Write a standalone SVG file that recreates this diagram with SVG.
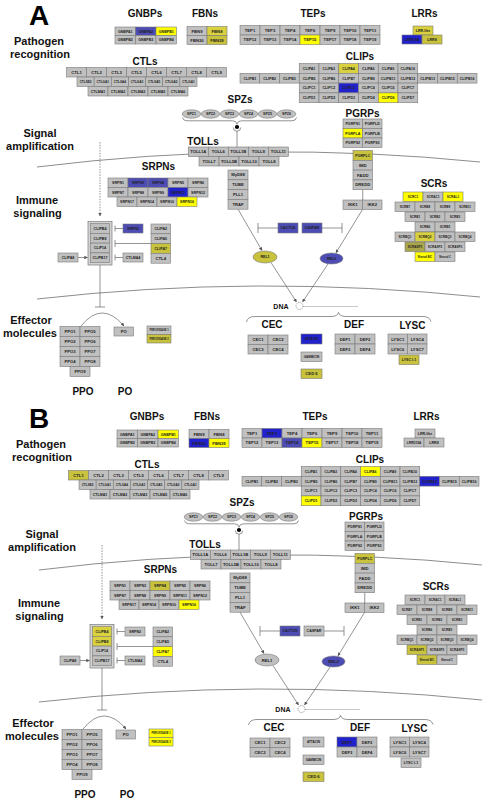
<svg xmlns="http://www.w3.org/2000/svg" width="483" height="800" viewBox="0 0 483 800">
<style>
text{font-family:"Liberation Sans",Arial,Helvetica,sans-serif;font-weight:bold}
.c{fill:#c0c0c0;stroke:#7a7a7a;stroke-width:.6}
.y{fill:#ffff00}
.o{fill:#c8c23c}
.l{fill:#d9d23e}
.d{fill:#aaa64c}
.b{fill:#2222cc}
.s{fill:#4c4cb4}
.bx{fill:#d4d4d4;stroke:#7a7a7a;stroke-width:.7}
.t{font-size:4.2px;text-anchor:middle;fill:#222}
.t2{font-size:3.6px}
.t3{font-size:3.1px}
.t4{font-size:2.6px}
.h{font-size:10px;text-anchor:middle;fill:#111}
.lab{font-size:11px;text-anchor:middle;fill:#111}
.big{font-size:28px;text-anchor:middle;fill:#000}
.ln{fill:none;stroke:#666;stroke-width:.7}
.mb{fill:none;stroke:#6e6e6e;stroke-width:.8}
.ar{marker-end:url(#ah)}
.dash{stroke-dasharray:1.5 1.2}
.dot{stroke-dasharray:1 1}
</style>
<defs>
<marker id="ah" viewBox="0 0 6 6" refX="5.5" refY="3" markerUnits="userSpaceOnUse" markerWidth="3.5" markerHeight="3.5" orient="auto"><path d="M0,0L6,3L0,6z" fill="#555"/></marker>
</defs>
<rect width="483" height="800" fill="#fff"/>

<!-- ================= PANEL A ================= -->
<g id="panelA">
<text class="big" x="39" y="25">A</text>
<text class="lab" x="39" y="45">Pathogen</text>
<text class="lab" x="40" y="58">recognition</text>
<text class="lab" x="40" y="136.5">Signal</text>
<text class="lab" x="40" y="150">amplification</text>
<text class="lab" x="37" y="203.5">Immune</text>
<text class="lab" x="37.5" y="216.5">signaling</text>
<text class="lab" x="31" y="323.5">Effector</text>
<text class="lab" x="30" y="336.5">molecules</text>

<g id="A-connectors">
<path class="mb" d="M37,167 Q257.5,139.5 480,162"/>
<path class="mb" d="M37,299 Q257,274 480,297"/>
<path class="ln dash ar" d="M100,142 V216"/>
<path class="ln" d="M182.5,117.5 Q183,120.8 187,120.8 H232.5 Q236.5,120.8 237,124.3 Q237.5,120.8 241.5,120.8 H292 Q296,120.8 296.5,117.5"/>
<circle cx="237" cy="127" r="2.1" fill="#000"/>
<path class="ln" d="M233.3,127.5 A3.7,3.7 0 0 0 240.7,127.5"/>
<path class="ln" d="M237,131.2 V147"/>
<path class="ln ar" d="M238,209.2 L262,250.5"/>
<path class="ln ar" d="M362.5,209.5 L336,252.8"/>
<path class="ln ar" d="M271,262.5 L296.5,302"/>
<path class="ln ar" d="M328,264 L302.5,302"/>
<path class="ln" d="M278,228 H258 M258,223 V233"/>
<path class="ln" d="M322,228 H342 M342,223 V233"/>
<path class="ln" d="M362.75,189.7 V200"/>
<path class="ln" d="M123,228.5 H115 M115,225.5 V231.5"/>
<path class="ln" d="M151,243.5 H115 M115,240 V247"/>
<path class="ln" d="M123,257.5 H115 M115,254.5 V260.5"/>
<path class="ln ar" d="M78,257.5 H87.5"/>
<path class="ln" d="M100,265 V307 M95,307 H105"/>
<path class="ln ar" d="M81,326 Q102,300 124,326"/>
<circle cx="299.5" cy="306" r="3.5" fill="none" stroke="#555" stroke-width=".6" stroke-dasharray="1 .8"/>
<path class="ln dot" d="M303.5,306.5 H358"/>
<path class="ln" d="M246.5,322 Q247.5,316.5 255,316.5 H331 Q337.5,316.5 338.5,312.5 Q339.5,316.5 346,316.5 H423 Q429.5,316.5 431,321.5"/>
</g>

<g id="A-GNBPs">
<text class="h" x="145" y="16.5">GNBPs</text>
<g transform="translate(115,27)">
<rect class="c" width="20.5" height="8.5"/><rect class="c s" x="20.5" width="20.5" height="8.5"/><rect class="c y" x="41" width="20.5" height="8.5"/>
<rect class="c" y="8.5" width="20.5" height="8.5"/><rect class="c" x="20.5" y="8.5" width="20.5" height="8.5"/><rect class="c" x="41" y="8.5" width="20.5" height="8.5"/>
<text class="t t2" x="10.25" y="5.55">GNBPA1</text><text class="t t2" x="30.75" y="5.55">GNBPA2</text><text class="t t2" x="51.25" y="5.55">GNBPB1</text>
<text class="t t2" x="10.25" y="14.05">GNBPB2</text><text class="t t2" x="30.75" y="14.05">GNBPB3</text><text class="t t2" x="51.25" y="14.05">GNBPB4</text>
</g></g>

<g id="A-FBNs">
<text class="h" x="205" y="16.5">FBNs</text>
<g transform="translate(187,26.5)">
<rect class="c" width="20" height="9"/><rect class="c l" x="20" width="20" height="9"/>
<rect class="c" y="9" width="20" height="9"/><rect class="c o" x="20" y="9" width="20" height="9"/>
<text class="t" x="10" y="6">FBN9</text><text class="t" x="30" y="6">FBN8</text>
<text class="t" x="10" y="15">FBN30</text><text class="t" x="30" y="15">FBN39</text>
</g></g>

<g id="A-TEPs">
<text class="h" x="313" y="16.5">TEPs</text>
<g transform="translate(240,25.5)">
<rect class="c" x="0" width="20" height="9.5"/><rect class="c" x="20" width="20" height="9.5"/><rect class="c" x="40" width="20" height="9.5"/><rect class="c" x="60" width="20" height="9.5"/><rect class="c" x="80" width="20" height="9.5"/><rect class="c" x="100" width="20" height="9.5"/><rect class="c" x="120" width="20" height="9.5"/>
<rect class="c" x="0" y="9.5" width="20" height="9.5"/><rect class="c" x="20" y="9.5" width="20" height="9.5"/><rect class="c" x="40" y="9.5" width="20" height="9.5"/><rect class="c y" x="60" y="9.5" width="20" height="9.5"/><rect class="c" x="80" y="9.5" width="20" height="9.5"/><rect class="c" x="100" y="9.5" width="20" height="9.5"/><rect class="c" x="120" y="9.5" width="20" height="9.5"/>
<text class="t" x="10" y="6.25">TEP1</text><text class="t" x="30" y="6.25">TEP3</text><text class="t" x="50" y="6.25">TEP4</text><text class="t" x="70" y="6.25">TEP6</text><text class="t" x="90" y="6.25">TEP9</text><text class="t" x="110" y="6.25">TEP10</text><text class="t" x="130" y="6.25">TEP11</text>
<text class="t" x="10" y="15.75">TEP12</text><text class="t" x="30" y="15.75">TEP13</text><text class="t" x="50" y="15.75">TEP14</text><text class="t" x="70" y="15.75">TEP15</text><text class="t" x="90" y="15.75">TEP17</text><text class="t" x="110" y="15.75">TEP18</text><text class="t" x="130" y="15.75">TEP19</text>
</g></g>

<g id="A-LRRs">
<text class="h" x="424.5" y="16.5">LRRs</text>
<rect class="c l" x="413" y="26" width="20" height="9"/>
<rect class="c b" x="402" y="35" width="20" height="9"/>
<rect class="c o" x="422" y="35" width="20" height="9"/>
<text class="t t2" x="423" y="31.8">LRR-like</text>
<text class="t t3" x="412" y="40.6">LRRD19A</text>
<text class="t t2" x="432" y="40.8">LRR8</text>
</g>

<g id="A-CTLs">
<text class="h" x="145" y="64.5">CTLs</text>
<g transform="translate(66.5,67.5)">
<rect class="c" x="0" width="20" height="9.5"/><rect class="c" x="20" width="20" height="9.5"/><rect class="c" x="40" width="20" height="9.5"/><rect class="c" x="60" width="20" height="9.5"/><rect class="c" x="80" width="20" height="9.5"/><rect class="c" x="100" width="20" height="9.5"/><rect class="c" x="120" width="20" height="9.5"/><rect class="c" x="140" width="20" height="9.5"/>
<text class="t" x="10" y="6.25">CTL1</text><text class="t" x="30" y="6.25">CTL2</text><text class="t" x="50" y="6.25">CTL3</text><text class="t" x="70" y="6.25">CTL5</text><text class="t" x="90" y="6.25">CTL6</text><text class="t" x="110" y="6.25">CTL7</text><text class="t" x="130" y="6.25">CTL8</text><text class="t" x="150" y="6.25">CTL9</text>
</g>
<g transform="translate(77,77)">
<rect class="c" x="0" width="17.14" height="9.5"/><rect class="c" x="17.14" width="17.14" height="9.5"/><rect class="c" x="34.29" width="17.14" height="9.5"/><rect class="c" x="51.43" width="17.14" height="9.5"/><rect class="c" x="68.57" width="17.14" height="9.5"/><rect class="c" x="85.71" width="17.14" height="9.5"/><rect class="c" x="102.86" width="17.14" height="9.5"/>
<text class="t t3" x="8.57" y="5.9">CTLSE2</text><text class="t t3" x="25.71" y="5.9">CTLGA1</text><text class="t t3" x="42.86" y="5.9">CTLGA4</text><text class="t t3" x="60" y="5.9">CTLGA3</text><text class="t t3" x="77.14" y="5.9">CTLGA5</text><text class="t t3" x="94.29" y="5.9">CTLGA2</text><text class="t t3" x="111.43" y="5.9">CTLGA1</text>
</g>
<g transform="translate(88,86.5)">
<rect class="c" x="0" width="20" height="9.5"/><rect class="c" x="20" width="20" height="9.5"/><rect class="c" x="40" width="20" height="9.5"/><rect class="c" x="60" width="20" height="9.5"/><rect class="c" x="80" width="20" height="9.5"/>
<text class="t t2" x="10" y="6.05">CTLMA1</text><text class="t t2" x="30" y="6.05">CTLMA2</text><text class="t t2" x="50" y="6.05">CTLMA3</text><text class="t t2" x="70" y="6.05">CTLMA5</text><text class="t t2" x="90" y="6.05">CTLMA6</text>
</g></g>

<g id="A-CLIPs">
<text class="h" x="360" y="60">CLIPs</text>
<g transform="translate(240,63.5)">
<rect class="c" x="59.25" y="0" width="19.75" height="9.8"/><rect class="c" x="79" y="0" width="19.75" height="9.8"/><rect class="c l" x="98.75" y="0" width="19.75" height="9.8"/><rect class="c" x="118.5" y="0" width="19.75" height="9.8"/><rect class="c" x="138.25" y="0" width="19.75" height="9.8"/><rect class="c" x="158" y="0" width="19.75" height="9.8"/>
<rect class="c" x="0" y="9.8" width="19.75" height="9.8"/><rect class="c" x="19.75" y="9.8" width="19.75" height="9.8"/><rect class="c" x="39.5" y="9.8" width="19.75" height="9.8"/><rect class="c" x="59.25" y="9.8" width="19.75" height="9.8"/><rect class="c" x="79" y="9.8" width="19.75" height="9.8"/><rect class="c" x="98.75" y="9.8" width="19.75" height="9.8"/><rect class="c" x="118.5" y="9.8" width="19.75" height="9.8"/><rect class="c" x="138.25" y="9.8" width="19.75" height="9.8"/><rect class="c" x="158" y="9.8" width="19.75" height="9.8"/><rect class="c" x="177.75" y="9.8" width="19.75" height="9.8"/><rect class="c" x="197.5" y="9.8" width="19.75" height="9.8"/><rect class="c" x="217.25" y="9.8" width="19.75" height="9.8"/>
<rect class="c" x="59.25" y="19.6" width="19.75" height="9.8"/><rect class="c" x="79" y="19.6" width="19.75" height="9.8"/><rect class="c b" x="98.75" y="19.6" width="19.75" height="9.8"/><rect class="c" x="118.5" y="19.6" width="19.75" height="9.8"/><rect class="c" x="138.25" y="19.6" width="19.75" height="9.8"/><rect class="c" x="158" y="19.6" width="19.75" height="9.8"/>
<rect class="c" x="59.25" y="29.4" width="19.75" height="9.8"/><rect class="c" x="79" y="29.4" width="19.75" height="9.8"/><rect class="c" x="98.75" y="29.4" width="19.75" height="9.8"/><rect class="c" x="118.5" y="29.4" width="19.75" height="9.8"/><rect class="c y" x="138.25" y="29.4" width="19.75" height="9.8"/><rect class="c" x="158" y="29.4" width="19.75" height="9.8"/>
<text class="t t2" x="69.125" y="6.2">CLIPA1</text><text class="t t2" x="88.875" y="6.2">CLIPA3</text><text class="t t2" x="108.625" y="6.2">CLIPA4</text><text class="t t2" x="128.375" y="6.2">CLIPA6</text><text class="t t2" x="148.125" y="6.2">CLIPA9</text><text class="t t2" x="167.875" y="6.2">CLIPA10</text>
<text class="t t2" x="9.875" y="16">CLIPB1</text><text class="t t2" x="29.625" y="16">CLIPB2</text><text class="t t2" x="49.375" y="16">CLIPB3</text><text class="t t2" x="69.125" y="16">CLIPB5</text><text class="t t2" x="88.875" y="16">CLIPB6</text><text class="t t2" x="108.625" y="16">CLIPB7</text><text class="t t2" x="128.375" y="16">CLIPB9</text><text class="t t2" x="148.125" y="16">CLIPB11</text><text class="t t2" x="167.875" y="16">CLIPB12</text><text class="t t2" x="187.625" y="16">CLIPB13</text><text class="t t2" x="207.375" y="16">CLIPB15</text><text class="t t2" x="227.125" y="16">CLIPB16</text>
<text class="t t2" x="69.125" y="25.8">CLIPC1</text><text class="t t2" x="88.875" y="25.8">CLIPC2</text><text class="t t2" x="108.625" y="25.8">CLIPC3</text><text class="t t2" x="128.375" y="25.8">CLIPC4</text><text class="t t2" x="148.125" y="25.8">CLIPC6</text><text class="t t2" x="167.875" y="25.8">CLIPC7</text>
<text class="t t2" x="69.125" y="35.6">CLIPD1</text><text class="t t2" x="88.875" y="35.6">CLIPD2</text><text class="t t2" x="108.625" y="35.6">CLIPD3</text><text class="t t2" x="128.375" y="35.6">CLIPD4</text><text class="t t2" x="148.125" y="35.6">CLIPD6</text><text class="t t2" x="167.875" y="35.6">CLIPD7</text>
</g></g>

<g id="A-SPZs">
<text class="h" x="240" y="103">SPZs</text>
<ellipse class="c" cx="191.5" cy="114" rx="9.3" ry="4.2"/><ellipse class="c" cx="210.5" cy="114" rx="9.3" ry="4.2"/><ellipse class="c" cx="229.5" cy="114" rx="9.3" ry="4.2"/><ellipse class="c" cx="248.5" cy="114" rx="9.3" ry="4.2"/><ellipse class="c" cx="267.5" cy="114" rx="9.3" ry="4.2"/><ellipse class="c" cx="286.5" cy="114" rx="9.3" ry="4.2"/>
<text class="t t2" x="191.5" y="115.3">SPZ1</text><text class="t t2" x="210.5" y="115.3">SPZ2</text><text class="t t2" x="229.5" y="115.3">SPZ3</text><text class="t t2" x="248.5" y="115.3">SPZ4</text><text class="t t2" x="267.5" y="115.3">SPZ5</text><text class="t t2" x="286.5" y="115.3">SPZ6</text>
</g>

<g id="A-TOLLs">
<text class="h" x="203" y="145">TOLLs</text>
<g transform="translate(188.3,147)">
<rect class="c" x="0" width="20" height="9.5"/><rect class="c" x="20" width="20" height="9.5"/><rect class="c" x="40" width="20" height="9.5"/><rect class="c" x="60" width="20" height="9.5"/><rect class="c" x="80" width="20" height="9.5"/>
<text class="t" x="10" y="6.25">TOLL1A</text><text class="t" x="30" y="6.25">TOLL6</text><text class="t" x="50" y="6.25">TOLL1B</text><text class="t" x="70" y="6.25">TOLL9</text><text class="t" x="90" y="6.25">TOLL11</text>
</g>
<g transform="translate(199,156.5)">
<rect class="c" x="0" width="20" height="9.5"/><rect class="c" x="20" width="20" height="9.5"/><rect class="c" x="40" width="20" height="9.5"/><rect class="c" x="60" width="20" height="9.5"/>
<text class="t" x="10" y="6.25">TOLL7</text><text class="t" x="30" y="6.25">TOLL5B</text><text class="t" x="50" y="6.25">TOLL10</text><text class="t" x="70" y="6.25">TOLL8</text>
</g></g>

<g id="A-TollPathway" transform="translate(228,170)">
<rect class="c" y="0" width="20" height="9.8"/><rect class="c" y="9.8" width="20" height="9.8"/><rect class="c" y="19.6" width="20" height="9.8"/><rect class="c" y="29.4" width="20" height="9.8"/>
<text class="t" x="10" y="6.4">MyD88</text><text class="t" x="10" y="16.2">TUBE</text><text class="t" x="10" y="26">PLL1</text><text class="t" x="10" y="35.8">TRAF</text>
</g>

<g id="A-PGRPs">
<text class="h" x="362.5" y="116.5">PGRPs</text>
<g transform="translate(343,119)">
<rect class="c" width="19.5" height="9.5"/><rect class="c" x="19.5" width="19.5" height="9.5"/>
<rect class="c y" y="9.5" width="19.5" height="9.5"/><rect class="c" x="19.5" y="9.5" width="19.5" height="9.5"/>
<rect class="c" y="19" width="19.5" height="9.5"/><rect class="c" x="19.5" y="19" width="19.5" height="9.5"/>
<text class="t t2" x="9.75" y="6.05">PGRPS1</text><text class="t t2" x="29.25" y="6.05">PGRPLD</text>
<text class="t t2" x="9.75" y="15.55">PGRPLA</text><text class="t t2" x="29.25" y="15.55">PGRPLB</text>
<text class="t t2" x="9.75" y="25.05">PGRPS2</text><text class="t t2" x="29.25" y="25.05">PGRPS3</text>
</g></g>

<g id="A-ImdPathway" transform="translate(353,150.5)">
<rect class="c o" y="0" width="19.5" height="9.8"/><rect class="c" y="9.8" width="19.5" height="9.8"/><rect class="c" y="19.6" width="19.5" height="9.8"/><rect class="c" y="29.4" width="19.5" height="9.8"/>
<text class="t t2" x="9.75" y="6.2">PGRPLC</text><text class="t" x="9.75" y="16.2">IMD</text><text class="t" x="9.75" y="26">FADD</text><text class="t" x="9.75" y="35.8">DREDD</text>
</g>

<g id="A-IKK" transform="translate(343,200)">
<rect class="c" width="19.5" height="9.5"/><rect class="c" x="19.5" width="19.5" height="9.5"/>
<text class="t" x="9.75" y="6.25">IKK1</text><text class="t" x="29.25" y="6.25">IKK2</text>
</g>

<g id="A-SRPNs">
<text class="h" x="158.5" y="170">SRPNs</text>
<g transform="translate(108,178)">
<rect class="c" x="0" width="20" height="9.5"/><rect class="c s" x="20" width="20" height="9.5"/><rect class="c s" x="40" width="20" height="9.5"/><rect class="c" x="60" width="20" height="9.5"/><rect class="c" x="80" width="20" height="9.5"/>
<rect class="c" x="0" y="9.5" width="20" height="9.5"/><rect class="c" x="20" y="9.5" width="20" height="9.5"/><rect class="c" x="40" y="9.5" width="20" height="9.5"/><rect class="c b" x="60" y="9.5" width="20" height="9.5"/><rect class="c" x="80" y="9.5" width="20" height="9.5"/>
<rect class="c" x="9" y="19" width="20" height="9.5"/><rect class="c" x="29" y="19" width="20" height="9.5"/><rect class="c" x="49" y="19" width="20" height="9.5"/><rect class="c y" x="69" y="19" width="20" height="9.5"/>
<text class="t t2" x="10" y="6.05">SRPN1</text><text class="t t2" x="30" y="6.05">SRPN3</text><text class="t t2" x="50" y="6.05">SRPN4</text><text class="t t2" x="70" y="6.05">SRPN5</text><text class="t t2" x="90" y="6.05">SRPN6</text>
<text class="t t2" x="10" y="15.55">SRPN7</text><text class="t t2" x="30" y="15.55">SRPN8</text><text class="t t2" x="50" y="15.55">SRPN9</text><text class="t t2" x="70" y="15.55">SRPN11</text><text class="t t2" x="90" y="15.55">SRPN12</text>
<text class="t t2" x="19" y="25.05">SRPN17</text><text class="t t2" x="39" y="25.05">SRPN14</text><text class="t t2" x="59" y="25.05">SRPN10</text><text class="t t2" x="79" y="25.05">SRPN16</text>
</g></g>

<g id="A-SCRs">
<text class="h" x="434" y="186.5">SCRs</text>
<rect class="c y" x="403" y="192" width="20" height="9.5"/><rect class="c" x="423" y="192" width="20" height="9.5"/><rect class="c y" x="443" y="192" width="20" height="9.5"/>
<rect class="c" x="395" y="202" width="20" height="9.5"/><rect class="c" x="415" y="202" width="20" height="9.5"/><rect class="c" x="435" y="202" width="20" height="9.5"/><rect class="c" x="455" y="202" width="20" height="9.5"/>
<rect class="c" x="405" y="212" width="20" height="9.5"/><rect class="c" x="425" y="212" width="20" height="9.5"/><rect class="c" x="445" y="212" width="20" height="9.5"/>
<rect class="c" x="415" y="222" width="20" height="9.5"/><rect class="c" x="435" y="222" width="20" height="9.5"/>
<rect class="c" x="395" y="232" width="20" height="9.5"/><rect class="c l" x="415" y="232" width="20" height="9.5"/><rect class="c" x="435" y="232" width="20" height="9.5"/><rect class="c" x="455" y="232" width="20" height="9.5"/>
<rect class="c d" x="405" y="242" width="20" height="9.5"/><rect class="c" x="425" y="242" width="20" height="9.5"/><rect class="c" x="445" y="242" width="20" height="9.5"/>
<rect class="c y" x="415" y="252" width="20" height="9.5"/><rect class="c" x="435" y="252" width="20" height="9.5"/>
<text class="t t3" x="413" y="197.9">SCRC1</text><text class="t t3" x="433" y="197.9">SCRAC1</text><text class="t t3" x="453" y="197.9">SCRAL1</text>
<text class="t t3" x="405" y="207.9">SCRB7</text><text class="t t3" x="425" y="207.9">SCRB8</text><text class="t t3" x="445" y="207.9">SCRB9</text><text class="t t3" x="465" y="207.9">SCRB11</text>
<text class="t t3" x="415" y="217.9">SCRB1</text><text class="t t3" x="435" y="217.9">SCRB2</text><text class="t t3" x="455" y="217.9">SCRB3</text>
<text class="t t3" x="425" y="227.9">SCRB6</text><text class="t t3" x="445" y="227.9">SCRB5</text>
<text class="t t3" x="405" y="237.9">SCRBQ1</text><text class="t t3" x="425" y="237.9">SCRBQ2</text><text class="t t3" x="445" y="237.9">SCRBQ3</text><text class="t t3" x="465" y="237.9">SCRBQ4</text>
<text class="t t3" x="415" y="247.9">SCRASP1</text><text class="t t3" x="435" y="247.9">SCRASP2</text><text class="t t3" x="455" y="247.9">SCRASP3</text>
<text class="t t4" x="425" y="257.7">Nimrod B/C</text><text class="t t4" x="445" y="257.7">Nimrod C</text>
</g>

<g id="A-CLIPB-complex">
<rect class="bx" x="88" y="221.5" width="24" height="43.5"/>
<g transform="translate(90.5,223.5)">
<rect class="c" y="0" width="19" height="9.8"/><rect class="c" y="9.8" width="19" height="9.8"/><rect class="c" y="19.6" width="19" height="9.8"/><rect class="c" y="29.4" width="19" height="9.8"/>
<text class="t t2" x="9.5" y="6.2">CLIPB4</text><text class="t t2" x="9.5" y="16">CLIPB8</text><text class="t t2" x="9.5" y="25.8">CLIP14</text><text class="t t2" x="9.5" y="35.6">CLIPB17</text>
</g></g>
<g id="A-SRPN2"><rect class="c s" x="123" y="224" width="20" height="9"/><text class="t t2" x="133" y="229.8">SRPN2</text></g>
<g id="A-CTLMA4"><rect class="c" x="123" y="253" width="20" height="9"/><text class="t t2" x="133" y="258.8">CTLMA4</text></g>
<g id="A-CLIPA8"><rect class="c" x="58" y="253" width="20" height="9"/><text class="t t2" x="68" y="258.8">CLIPA8</text></g>
<g id="A-CLIPA-stack" transform="translate(151,224)">
<rect class="c" y="0" width="19.5" height="9.8"/><rect class="c" y="9.8" width="19.5" height="9.8"/><rect class="c o" y="19.6" width="19.5" height="9.8"/><rect class="c" y="29.4" width="19.5" height="9.8"/>
<text class="t t2" x="9.75" y="6.2">CLIPA2</text><text class="t t2" x="9.75" y="16">CLIPA5</text><text class="t t2" x="9.75" y="25.8">CLIPA7</text><text class="t" x="9.75" y="35.8">CTL4</text>
</g>

<g id="A-CACTUS"><rect class="c s" x="278" y="223" width="20" height="10"/><text class="t t2" x="288" y="229.3">CACTUS</text></g>
<g id="A-CASPAR"><rect class="c s" x="302" y="223" width="20" height="10"/><text class="t t2" x="312" y="229.3">CASPAR</text></g>
<g id="A-REL1"><ellipse class="c o" cx="265" cy="257" rx="12" ry="6"/><text class="t t2" x="265" y="258.3">REL1</text></g>
<g id="A-REL2"><ellipse class="c s" cx="331.5" cy="258.5" rx="11.5" ry="5.5"/><text class="t t2" x="331.5" y="259.8">REL2</text></g>
<text x="288.5" y="309" font-size="7" text-anchor="end" fill="#111">DNA</text>

<g id="A-PPO">
<g transform="translate(60,326.5)">
<rect class="c" x="0" y="0" width="20" height="10"/><rect class="c" x="20" y="0" width="20" height="10"/>
<rect class="c" x="0" y="10" width="20" height="10"/><rect class="c" x="20" y="10" width="20" height="10"/>
<rect class="c" x="0" y="20" width="20" height="10"/><rect class="c" x="20" y="20" width="20" height="10"/>
<rect class="c" x="0" y="30" width="20" height="10"/><rect class="c" x="20" y="30" width="20" height="10"/>
<rect class="c" x="10" y="40" width="20" height="10"/>
<text class="t" x="10" y="6.5">PPO1</text><text class="t" x="30" y="6.5">PPO5</text>
<text class="t" x="10" y="16.5">PPO2</text><text class="t" x="30" y="16.5">PPO6</text>
<text class="t" x="10" y="26.5">PPO3</text><text class="t" x="30" y="26.5">PPO7</text>
<text class="t" x="10" y="36.5">PPO4</text><text class="t" x="30" y="36.5">PPO8</text>
<text class="t" x="20" y="46.5">PPO9</text>
</g>
<text class="h" x="83" y="395">PPO</text>
</g>
<g id="A-PO"><rect class="c" x="114" y="327" width="19.5" height="9"/><text class="t" x="123.75" y="333">PO</text><text class="h" x="125" y="395">PO</text></g>
<g id="A-PEROXIDASE">
<rect class="c" x="147" y="326" width="24" height="8.5"/><rect class="c o" x="147" y="334.5" width="24" height="8.5"/>
<text class="t t4" x="159" y="331.2">PEROXIDASE 1</text><text class="t t4" x="159" y="339.7">PEROXIDASE 2</text>
</g>

<g id="A-CEC">
<text class="h" x="272" y="328">CEC</text>
<g transform="translate(248,335)">
<rect class="c" width="20" height="9.5"/><rect class="c" x="20" width="20" height="9.5"/><rect class="c" y="9.5" width="20" height="9.5"/><rect class="c" x="20" y="9.5" width="20" height="9.5"/>
<text class="t" x="10" y="6.25">CEC1</text><text class="t" x="30" y="6.25">CEC2</text><text class="t" x="10" y="15.75">CEC3</text><text class="t" x="30" y="15.75">CEC4</text>
</g></g>
<g id="A-ATTACIN"><rect class="c b" x="301" y="334" width="21" height="10"/><text class="t t3" x="311.5" y="340.1">ATTACIN</text></g>
<g id="A-GAMBICIN"><rect class="c" x="301" y="352" width="21" height="9.5"/><text class="t t3" x="311.5" y="357.8">GAMBICIN</text></g>
<g id="A-CED6"><rect class="c o" x="301" y="369" width="21" height="9.5"/><text class="t" x="311.5" y="375.3">CED 6</text></g>

<g id="A-DEF">
<text class="h" x="354" y="328">DEF</text>
<g transform="translate(335,334)">
<rect class="c" width="20" height="10"/><rect class="c" x="20" width="20" height="10"/><rect class="c" y="10" width="20" height="10"/><rect class="c" x="20" y="10" width="20" height="10"/>
<text class="t" x="10" y="6.5">DEF1</text><text class="t" x="30" y="6.5">DEF2</text><text class="t" x="10" y="16.5">DEF3</text><text class="t" x="30" y="16.5">DEF4</text>
</g></g>

<g id="A-LYSC">
<text class="h" x="412.5" y="328.5">LYSC</text>
<g transform="translate(388,334)">
<rect class="c" width="19.5" height="10"/><rect class="c" x="19.5" width="19.5" height="10"/><rect class="c" y="10" width="19.5" height="10"/><rect class="c" x="19.5" y="10" width="19.5" height="10"/>
<text class="t" x="9.75" y="6.5">LYSC1</text><text class="t" x="29.25" y="6.5">LYSC4</text><text class="t" x="9.75" y="16.5">LYSC6</text><text class="t" x="29.25" y="16.5">LYSC7</text>
</g>
<rect class="c o" x="399" y="355" width="20" height="9.5"/><text class="t t2" x="409" y="361">LYSC I-1</text>
</g>
</g>

<!-- ================= PANEL B ================= -->
<g id="panelB" transform="translate(2,403)">
<text class="big" x="37" y="25">B</text>
<text class="lab" x="39" y="45">Pathogen</text>
<text class="lab" x="40" y="58">recognition</text>
<text class="lab" x="40" y="134.5">Signal</text>
<text class="lab" x="40" y="148">amplification</text>
<text class="lab" x="37" y="203.5">Immune</text>
<text class="lab" x="37.5" y="216.5">signaling</text>
<text class="lab" x="31" y="323.5">Effector</text>
<text class="lab" x="30" y="336.5">molecules</text>

<g id="B-connectors">
<path class="mb" d="M37,167 Q257.5,139.5 480,162"/>
<path class="mb" d="M37,299 Q257,274 480,297"/>
<path class="ln dash ar" d="M100,142 V216"/>
<path class="ln" d="M182.5,117.5 Q183,120.8 187,120.8 H232.5 Q236.5,120.8 237,124.3 Q237.5,120.8 241.5,120.8 H292 Q296,120.8 296.5,117.5"/>
<circle cx="237" cy="127" r="2.1" fill="#000"/>
<path class="ln" d="M233.3,127.5 A3.7,3.7 0 0 0 240.7,127.5"/>
<path class="ln" d="M237,131.2 V147"/>
<path class="ln ar" d="M238,209.2 L262,250.5"/>
<path class="ln ar" d="M362.5,209.5 L336,252.8"/>
<path class="ln ar" d="M271,262.5 L296.5,302"/>
<path class="ln ar" d="M328,264 L302.5,302"/>
<path class="ln" d="M278,228 H258 M258,223 V233"/>
<path class="ln" d="M322,228 H342 M342,223 V233"/>
<path class="ln" d="M362.75,189.7 V200"/>
<path class="ln" d="M123,228.5 H115 M115,225.5 V231.5"/>
<path class="ln" d="M151,243.5 H115 M115,240 V247"/>
<path class="ln" d="M123,257.5 H115 M115,254.5 V260.5"/>
<path class="ln ar" d="M78,257.5 H87.5"/>
<path class="ln" d="M100,265 V307 M95,307 H105"/>
<path class="ln ar" d="M81,326 Q102,300 124,326"/>
<circle cx="299.5" cy="306" r="3.5" fill="none" stroke="#555" stroke-width=".6" stroke-dasharray="1 .8"/>
<path class="ln dot" d="M303.5,306.5 H358"/>
<path class="ln" d="M246.5,322 Q247.5,316.5 255,316.5 H331 Q337.5,316.5 338.5,312.5 Q339.5,316.5 346,316.5 H423 Q429.5,316.5 431,321.5"/>
</g>

<g id="B-GNBPs">
<text class="h" x="145" y="16.5">GNBPs</text>
<g transform="translate(115,27)">
<rect class="c" width="20.5" height="8.5"/><rect class="c" x="20.5" width="20.5" height="8.5"/><rect class="c y" x="41" width="20.5" height="8.5"/>
<rect class="c" y="8.5" width="20.5" height="8.5"/><rect class="c" x="20.5" y="8.5" width="20.5" height="8.5"/><rect class="c" x="41" y="8.5" width="20.5" height="8.5"/>
<text class="t t2" x="10.25" y="5.55">GNBPA1</text><text class="t t2" x="30.75" y="5.55">GNBPA2</text><text class="t t2" x="51.25" y="5.55">GNBPB1</text>
<text class="t t2" x="10.25" y="14.05">GNBPB2</text><text class="t t2" x="30.75" y="14.05">GNBPB3</text><text class="t t2" x="51.25" y="14.05">GNBPB4</text>
</g></g>

<g id="B-FBNs">
<text class="h" x="205" y="16.5">FBNs</text>
<g transform="translate(187,26.5)">
<rect class="c" width="20" height="9"/><rect class="c" x="20" width="20" height="9"/>
<rect class="c b" y="9" width="20" height="9"/><rect class="c y" x="20" y="9" width="20" height="9"/>
<text class="t" x="10" y="6">FBN9</text><text class="t" x="30" y="6">FBN8</text>
<text class="t" x="10" y="15">FBN30</text><text class="t" x="30" y="15">FBN39</text>
</g></g>

<g id="B-TEPs">
<text class="h" x="313" y="16.5">TEPs</text>
<g transform="translate(240,25.5)">
<rect class="c" x="0" width="20" height="9.5"/><rect class="c b" x="20" width="20" height="9.5"/><rect class="c" x="40" width="20" height="9.5"/><rect class="c" x="60" width="20" height="9.5"/><rect class="c" x="80" width="20" height="9.5"/><rect class="c" x="100" width="20" height="9.5"/><rect class="c" x="120" width="20" height="9.5"/>
<rect class="c" x="0" y="9.5" width="20" height="9.5"/><rect class="c" x="20" y="9.5" width="20" height="9.5"/><rect class="c s" x="40" y="9.5" width="20" height="9.5"/><rect class="c y" x="60" y="9.5" width="20" height="9.5"/><rect class="c" x="80" y="9.5" width="20" height="9.5"/><rect class="c" x="100" y="9.5" width="20" height="9.5"/><rect class="c" x="120" y="9.5" width="20" height="9.5"/>
<text class="t" x="10" y="6.25">TEP1</text><text class="t" x="30" y="6.25">TEP3</text><text class="t" x="50" y="6.25">TEP4</text><text class="t" x="70" y="6.25">TEP6</text><text class="t" x="90" y="6.25">TEP9</text><text class="t" x="110" y="6.25">TEP10</text><text class="t" x="130" y="6.25">TEP11</text>
<text class="t" x="10" y="15.75">TEP12</text><text class="t" x="30" y="15.75">TEP13</text><text class="t" x="50" y="15.75">TEP14</text><text class="t" x="70" y="15.75">TEP15</text><text class="t" x="90" y="15.75">TEP17</text><text class="t" x="110" y="15.75">TEP18</text><text class="t" x="130" y="15.75">TEP19</text>
</g></g>

<g id="B-LRRs">
<text class="h" x="424.5" y="16.5">LRRs</text>
<rect class="c" x="413" y="26" width="20" height="9"/>
<rect class="c" x="402" y="35" width="20" height="9"/>
<rect class="c" x="422" y="35" width="20" height="9"/>
<text class="t t2" x="423" y="31.8">LRR-like</text>
<text class="t t3" x="412" y="40.6">LRRD19A</text>
<text class="t t2" x="432" y="40.8">LRR8</text>
</g>

<g id="B-CTLs">
<text class="h" x="145" y="64.5">CTLs</text>
<g transform="translate(66.5,67.5)">
<rect class="c o" x="0" width="20" height="9.5"/><rect class="c" x="20" width="20" height="9.5"/><rect class="c" x="40" width="20" height="9.5"/><rect class="c" x="60" width="20" height="9.5"/><rect class="c" x="80" width="20" height="9.5"/><rect class="c" x="100" width="20" height="9.5"/><rect class="c" x="120" width="20" height="9.5"/><rect class="c" x="140" width="20" height="9.5"/>
<text class="t" x="10" y="6.25">CTL1</text><text class="t" x="30" y="6.25">CTL2</text><text class="t" x="50" y="6.25">CTL3</text><text class="t" x="70" y="6.25">CTL5</text><text class="t" x="90" y="6.25">CTL6</text><text class="t" x="110" y="6.25">CTL7</text><text class="t" x="130" y="6.25">CTL8</text><text class="t" x="150" y="6.25">CTL9</text>
</g>
<g transform="translate(77,77)">
<rect class="c" x="0" width="17.14" height="9.5"/><rect class="c" x="17.14" width="17.14" height="9.5"/><rect class="c" x="34.29" width="17.14" height="9.5"/><rect class="c" x="51.43" width="17.14" height="9.5"/><rect class="c" x="68.57" width="17.14" height="9.5"/><rect class="c" x="85.71" width="17.14" height="9.5"/><rect class="c" x="102.86" width="17.14" height="9.5"/>
<text class="t t3" x="8.57" y="5.9">CTLSE2</text><text class="t t3" x="25.71" y="5.9">CTLGA1</text><text class="t t3" x="42.86" y="5.9">CTLGA4</text><text class="t t3" x="60" y="5.9">CTLGA3</text><text class="t t3" x="77.14" y="5.9">CTLGA5</text><text class="t t3" x="94.29" y="5.9">CTLGA2</text><text class="t t3" x="111.43" y="5.9">CTLGA1</text>
</g>
<g transform="translate(88,86.5)">
<rect class="c" x="0" width="20" height="9.5"/><rect class="c" x="20" width="20" height="9.5"/><rect class="c" x="40" width="20" height="9.5"/><rect class="c" x="60" width="20" height="9.5"/><rect class="c" x="80" width="20" height="9.5"/>
<text class="t t2" x="10" y="6.05">CTLMA1</text><text class="t t2" x="30" y="6.05">CTLMA2</text><text class="t t2" x="50" y="6.05">CTLMA3</text><text class="t t2" x="70" y="6.05">CTLMA5</text><text class="t t2" x="90" y="6.05">CTLMA6</text>
</g></g>

<g id="B-CLIPs">
<text class="h" x="368" y="60">CLIPs</text>
<g transform="translate(240,63.5)">
<rect class="c" x="59.25" y="0" width="19.75" height="9.8"/><rect class="c" x="79" y="0" width="19.75" height="9.8"/><rect class="c" x="98.75" y="0" width="19.75" height="9.8"/><rect class="c y" x="118.5" y="0" width="19.75" height="9.8"/><rect class="c" x="138.25" y="0" width="19.75" height="9.8"/><rect class="c" x="158" y="0" width="19.75" height="9.8"/>
<rect class="c" x="0" y="9.8" width="19.75" height="9.8"/><rect class="c" x="19.75" y="9.8" width="19.75" height="9.8"/><rect class="c" x="39.5" y="9.8" width="19.75" height="9.8"/><rect class="c" x="59.25" y="9.8" width="19.75" height="9.8"/><rect class="c" x="79" y="9.8" width="19.75" height="9.8"/><rect class="c" x="98.75" y="9.8" width="19.75" height="9.8"/><rect class="c" x="118.5" y="9.8" width="19.75" height="9.8"/><rect class="c" x="138.25" y="9.8" width="19.75" height="9.8"/><rect class="c" x="158" y="9.8" width="19.75" height="9.8"/><rect class="c b" x="177.75" y="9.8" width="19.75" height="9.8"/><rect class="c" x="197.5" y="9.8" width="19.75" height="9.8"/><rect class="c" x="217.25" y="9.8" width="19.75" height="9.8"/>
<rect class="c" x="59.25" y="19.6" width="19.75" height="9.8"/><rect class="c" x="79" y="19.6" width="19.75" height="9.8"/><rect class="c" x="98.75" y="19.6" width="19.75" height="9.8"/><rect class="c" x="118.5" y="19.6" width="19.75" height="9.8"/><rect class="c" x="138.25" y="19.6" width="19.75" height="9.8"/><rect class="c" x="158" y="19.6" width="19.75" height="9.8"/>
<rect class="c y" x="59.25" y="29.4" width="19.75" height="9.8"/><rect class="c" x="79" y="29.4" width="19.75" height="9.8"/><rect class="c" x="98.75" y="29.4" width="19.75" height="9.8"/><rect class="c" x="118.5" y="29.4" width="19.75" height="9.8"/><rect class="c" x="138.25" y="29.4" width="19.75" height="9.8"/><rect class="c" x="158" y="29.4" width="19.75" height="9.8"/>
<text class="t t2" x="69.125" y="6.2">CLIPA1</text><text class="t t2" x="88.875" y="6.2">CLIPA3</text><text class="t t2" x="108.625" y="6.2">CLIPA4</text><text class="t t2" x="128.375" y="6.2">CLIPA6</text><text class="t t2" x="148.125" y="6.2">CLIPA9</text><text class="t t2" x="167.875" y="6.2">CLIPA10</text>
<text class="t t2" x="9.875" y="16">CLIPB1</text><text class="t t2" x="29.625" y="16">CLIPB2</text><text class="t t2" x="49.375" y="16">CLIPB3</text><text class="t t2" x="69.125" y="16">CLIPB5</text><text class="t t2" x="88.875" y="16">CLIPB6</text><text class="t t2" x="108.625" y="16">CLIPB7</text><text class="t t2" x="128.375" y="16">CLIPB9</text><text class="t t2" x="148.125" y="16">CLIPB11</text><text class="t t2" x="167.875" y="16">CLIPB12</text><text class="t t2" x="187.625" y="16">CLIPB13</text><text class="t t2" x="207.375" y="16">CLIPB15</text><text class="t t2" x="227.125" y="16">CLIPB16</text>
<text class="t t2" x="69.125" y="25.8">CLIPC1</text><text class="t t2" x="88.875" y="25.8">CLIPC2</text><text class="t t2" x="108.625" y="25.8">CLIPC3</text><text class="t t2" x="128.375" y="25.8">CLIPC4</text><text class="t t2" x="148.125" y="25.8">CLIPC6</text><text class="t t2" x="167.875" y="25.8">CLIPC7</text>
<text class="t t2" x="69.125" y="35.6">CLIPD1</text><text class="t t2" x="88.875" y="35.6">CLIPD2</text><text class="t t2" x="108.625" y="35.6">CLIPD3</text><text class="t t2" x="128.375" y="35.6">CLIPD4</text><text class="t t2" x="148.125" y="35.6">CLIPD6</text><text class="t t2" x="167.875" y="35.6">CLIPD7</text>
</g></g>

<g id="B-SPZs">
<text class="h" x="240" y="103">SPZs</text>
<ellipse class="c" cx="191.5" cy="114" rx="9.3" ry="4.2"/><ellipse class="c" cx="210.5" cy="114" rx="9.3" ry="4.2"/><ellipse class="c" cx="229.5" cy="114" rx="9.3" ry="4.2"/><ellipse class="c" cx="248.5" cy="114" rx="9.3" ry="4.2"/><ellipse class="c" cx="267.5" cy="114" rx="9.3" ry="4.2"/><ellipse class="c" cx="286.5" cy="114" rx="9.3" ry="4.2"/>
<text class="t t2" x="191.5" y="115.3">SPZ1</text><text class="t t2" x="210.5" y="115.3">SPZ2</text><text class="t t2" x="229.5" y="115.3">SPZ3</text><text class="t t2" x="248.5" y="115.3">SPZ4</text><text class="t t2" x="267.5" y="115.3">SPZ5</text><text class="t t2" x="286.5" y="115.3">SPZ6</text>
</g>

<g id="B-TOLLs">
<text class="h" x="203" y="145">TOLLs</text>
<g transform="translate(188.3,147)">
<rect class="c" x="0" width="20" height="9.5"/><rect class="c" x="20" width="20" height="9.5"/><rect class="c" x="40" width="20" height="9.5"/><rect class="c" x="60" width="20" height="9.5"/><rect class="c" x="80" width="20" height="9.5"/>
<text class="t" x="10" y="6.25">TOLL1A</text><text class="t" x="30" y="6.25">TOLL6</text><text class="t" x="50" y="6.25">TOLL1B</text><text class="t" x="70" y="6.25">TOLL9</text><text class="t" x="90" y="6.25">TOLL11</text>
</g>
<g transform="translate(199,156.5)">
<rect class="c" x="0" width="20" height="9.5"/><rect class="c" x="20" width="20" height="9.5"/><rect class="c" x="40" width="20" height="9.5"/><rect class="c" x="60" width="20" height="9.5"/>
<text class="t" x="10" y="6.25">TOLL7</text><text class="t" x="30" y="6.25">TOLL5B</text><text class="t" x="50" y="6.25">TOLL10</text><text class="t" x="70" y="6.25">TOLL8</text>
</g></g>

<g id="B-TollPathway" transform="translate(228,170)">
<rect class="c" y="0" width="20" height="9.8"/><rect class="c" y="9.8" width="20" height="9.8"/><rect class="c" y="19.6" width="20" height="9.8"/><rect class="c" y="29.4" width="20" height="9.8"/>
<text class="t" x="10" y="6.4">MyD88</text><text class="t" x="10" y="16.2">TUBE</text><text class="t" x="10" y="26">PLL1</text><text class="t" x="10" y="35.8">TRAF</text>
</g>

<g id="B-PGRPs">
<text class="h" x="364" y="116.5">PGRPs</text>
<g transform="translate(343,119)">
<rect class="c" width="19.5" height="9.5"/><rect class="c" x="19.5" width="19.5" height="9.5"/>
<rect class="c" y="9.5" width="19.5" height="9.5"/><rect class="c" x="19.5" y="9.5" width="19.5" height="9.5"/>
<rect class="c" y="19" width="19.5" height="9.5"/><rect class="c" x="19.5" y="19" width="19.5" height="9.5"/>
<text class="t t2" x="9.75" y="6.05">PGRPS1</text><text class="t t2" x="29.25" y="6.05">PGRPLD</text>
<text class="t t2" x="9.75" y="15.55">PGRPLA</text><text class="t t2" x="29.25" y="15.55">PGRPLB</text>
<text class="t t2" x="9.75" y="25.05">PGRPS2</text><text class="t t2" x="29.25" y="25.05">PGRPS3</text>
</g></g>

<g id="B-ImdPathway" transform="translate(353,150.5)">
<rect class="c o" y="0" width="19.5" height="9.8"/><rect class="c" y="9.8" width="19.5" height="9.8"/><rect class="c" y="19.6" width="19.5" height="9.8"/><rect class="c" y="29.4" width="19.5" height="9.8"/>
<text class="t t2" x="9.75" y="6.2">PGRPLC</text><text class="t" x="9.75" y="16.2">IMD</text><text class="t" x="9.75" y="26">FADD</text><text class="t" x="9.75" y="35.8">DREDD</text>
</g>

<g id="B-IKK" transform="translate(343,200)">
<rect class="c" width="19.5" height="9.5"/><rect class="c" x="19.5" width="19.5" height="9.5"/>
<text class="t" x="9.75" y="6.25">IKK1</text><text class="t" x="29.25" y="6.25">IKK2</text>
</g>

<g id="B-SRPNs">
<text class="h" x="158.5" y="170">SRPNs</text>
<g transform="translate(108,178)">
<rect class="c" x="0" width="20" height="9.5"/><rect class="c" x="20" width="20" height="9.5"/><rect class="c o" x="40" width="20" height="9.5"/><rect class="c" x="60" width="20" height="9.5"/><rect class="c" x="80" width="20" height="9.5"/>
<rect class="c" x="0" y="9.5" width="20" height="9.5"/><rect class="c" x="20" y="9.5" width="20" height="9.5"/><rect class="c" x="40" y="9.5" width="20" height="9.5"/><rect class="c" x="60" y="9.5" width="20" height="9.5"/><rect class="c" x="80" y="9.5" width="20" height="9.5"/>
<rect class="c" x="9" y="19" width="20" height="9.5"/><rect class="c" x="29" y="19" width="20" height="9.5"/><rect class="c" x="49" y="19" width="20" height="9.5"/><rect class="c y" x="69" y="19" width="20" height="9.5"/>
<text class="t t2" x="10" y="6.05">SRPN1</text><text class="t t2" x="30" y="6.05">SRPN3</text><text class="t t2" x="50" y="6.05">SRPN4</text><text class="t t2" x="70" y="6.05">SRPN5</text><text class="t t2" x="90" y="6.05">SRPN6</text>
<text class="t t2" x="10" y="15.55">SRPN7</text><text class="t t2" x="30" y="15.55">SRPN8</text><text class="t t2" x="50" y="15.55">SRPN9</text><text class="t t2" x="70" y="15.55">SRPN11</text><text class="t t2" x="90" y="15.55">SRPN12</text>
<text class="t t2" x="19" y="25.05">SRPN17</text><text class="t t2" x="39" y="25.05">SRPN14</text><text class="t t2" x="59" y="25.05">SRPN10</text><text class="t t2" x="79" y="25.05">SRPN16</text>
</g></g>

<g id="B-SCRs">
<text class="h" x="434" y="186.5">SCRs</text>
<rect class="c" x="403" y="192" width="20" height="9.5"/><rect class="c" x="423" y="192" width="20" height="9.5"/><rect class="c" x="443" y="192" width="20" height="9.5"/>
<rect class="c" x="395" y="202" width="20" height="9.5"/><rect class="c" x="415" y="202" width="20" height="9.5"/><rect class="c" x="435" y="202" width="20" height="9.5"/><rect class="c" x="455" y="202" width="20" height="9.5"/>
<rect class="c" x="405" y="212" width="20" height="9.5"/><rect class="c" x="425" y="212" width="20" height="9.5"/><rect class="c" x="445" y="212" width="20" height="9.5"/>
<rect class="c" x="415" y="222" width="20" height="9.5"/><rect class="c" x="435" y="222" width="20" height="9.5"/>
<rect class="c" x="395" y="232" width="20" height="9.5"/><rect class="c" x="415" y="232" width="20" height="9.5"/><rect class="c" x="435" y="232" width="20" height="9.5"/><rect class="c" x="455" y="232" width="20" height="9.5"/>
<rect class="c o" x="405" y="242" width="20" height="9.5"/><rect class="c" x="425" y="242" width="20" height="9.5"/><rect class="c" x="445" y="242" width="20" height="9.5"/>
<rect class="c o" x="415" y="252" width="20" height="9.5"/><rect class="c" x="435" y="252" width="20" height="9.5"/>
<text class="t t3" x="413" y="197.9">SCRC1</text><text class="t t3" x="433" y="197.9">SCRAC1</text><text class="t t3" x="453" y="197.9">SCRAL1</text>
<text class="t t3" x="405" y="207.9">SCRB7</text><text class="t t3" x="425" y="207.9">SCRB8</text><text class="t t3" x="445" y="207.9">SCRB9</text><text class="t t3" x="465" y="207.9">SCRB11</text>
<text class="t t3" x="415" y="217.9">SCRB1</text><text class="t t3" x="435" y="217.9">SCRB2</text><text class="t t3" x="455" y="217.9">SCRB3</text>
<text class="t t3" x="425" y="227.9">SCRB6</text><text class="t t3" x="445" y="227.9">SCRB5</text>
<text class="t t3" x="405" y="237.9">SCRBQ1</text><text class="t t3" x="425" y="237.9">SCRBQ2</text><text class="t t3" x="445" y="237.9">SCRBQ3</text><text class="t t3" x="465" y="237.9">SCRBQ4</text>
<text class="t t3" x="415" y="247.9">SCRASP1</text><text class="t t3" x="435" y="247.9">SCRASP2</text><text class="t t3" x="455" y="247.9">SCRASP3</text>
<text class="t t4" x="425" y="257.7">Nimrod B/C</text><text class="t t4" x="445" y="257.7">Nimrod C</text>
</g>

<g id="B-CLIPB-complex">
<rect class="bx" x="88" y="221.5" width="24" height="43.5"/>
<g transform="translate(90.5,223.5)">
<rect class="c l" y="0" width="19" height="9.8"/><rect class="c l" y="9.8" width="19" height="9.8"/><rect class="c" y="19.6" width="19" height="9.8"/><rect class="c" y="29.4" width="19" height="9.8"/>
<text class="t t2" x="9.5" y="6.2">CLIPB4</text><text class="t t2" x="9.5" y="16">CLIPB8</text><text class="t t2" x="9.5" y="25.8">CLIP14</text><text class="t t2" x="9.5" y="35.6">CLIPB17</text>
</g></g>
<g id="B-SRPN2"><rect class="c" x="123" y="224" width="20" height="9"/><text class="t t2" x="133" y="229.8">SRPN2</text></g>
<g id="B-CTLMA4"><rect class="c" x="123" y="253" width="20" height="9"/><text class="t t2" x="133" y="258.8">CTLMA4</text></g>
<g id="B-CLIPA8"><rect class="c" x="58" y="253" width="20" height="9"/><text class="t t2" x="68" y="258.8">CLIPA8</text></g>
<g id="B-CLIPA-stack" transform="translate(151,224)">
<rect class="c" y="0" width="19.5" height="9.8"/><rect class="c" y="9.8" width="19.5" height="9.8"/><rect class="c y" y="19.6" width="19.5" height="9.8"/><rect class="c" y="29.4" width="19.5" height="9.8"/>
<text class="t t2" x="9.75" y="6.2">CLIPA2</text><text class="t t2" x="9.75" y="16">CLIPA5</text><text class="t t2" x="9.75" y="25.8">CLIPA7</text><text class="t" x="9.75" y="35.8">CTL4</text>
</g>

<g id="B-CACTUS"><rect class="c s" x="278" y="223" width="20" height="10"/><text class="t t2" x="288" y="229.3">CACTUS</text></g>
<g id="B-CASPAR"><rect class="c" x="302" y="223" width="20" height="10"/><text class="t t2" x="312" y="229.3">CASPAR</text></g>
<g id="B-REL1"><ellipse class="c" cx="265" cy="257" rx="12" ry="6"/><text class="t" x="265" y="258.5">REL1</text></g>
<g id="B-REL2"><ellipse class="c s" cx="331.5" cy="258.5" rx="11.5" ry="5.5"/><text class="t" x="331.5" y="260">REL2</text></g>
<text x="288.5" y="309" font-size="7" text-anchor="end" fill="#111">DNA</text>

<g id="B-PPO">
<g transform="translate(60,326.5)">
<rect class="c" x="0" y="0" width="20" height="10"/><rect class="c" x="20" y="0" width="20" height="10"/>
<rect class="c" x="0" y="10" width="20" height="10"/><rect class="c" x="20" y="10" width="20" height="10"/>
<rect class="c" x="0" y="20" width="20" height="10"/><rect class="c" x="20" y="20" width="20" height="10"/>
<rect class="c" x="0" y="30" width="20" height="10"/><rect class="c" x="20" y="30" width="20" height="10"/>
<rect class="c" x="10" y="40" width="20" height="10"/>
<text class="t" x="10" y="6.5">PPO1</text><text class="t" x="30" y="6.5">PPO5</text>
<text class="t" x="10" y="16.5">PPO2</text><text class="t" x="30" y="16.5">PPO6</text>
<text class="t" x="10" y="26.5">PPO3</text><text class="t" x="30" y="26.5">PPO7</text>
<text class="t" x="10" y="36.5">PPO4</text><text class="t" x="30" y="36.5">PPO8</text>
<text class="t" x="20" y="46.5">PPO9</text>
</g>
<text class="h" x="83" y="395">PPO</text>
</g>
<g id="B-PO"><rect class="c" x="114" y="327" width="19.5" height="9"/><text class="t" x="123.75" y="333">PO</text><text class="h" x="125" y="395">PO</text></g>
<g id="B-PEROXIDASE">
<rect class="c y" x="147" y="326" width="24" height="8.5"/><rect class="c y" x="147" y="334.5" width="24" height="8.5"/>
<text class="t t4" x="159" y="331.2">PEROXIDASE 1</text><text class="t t4" x="159" y="339.7">PEROXIDASE 2</text>
</g>

<g id="B-CEC">
<text class="h" x="272" y="328">CEC</text>
<g transform="translate(248,335)">
<rect class="c" width="20" height="9.5"/><rect class="c" x="20" width="20" height="9.5"/><rect class="c" y="9.5" width="20" height="9.5"/><rect class="c" x="20" y="9.5" width="20" height="9.5"/>
<text class="t" x="10" y="6.25">CEC1</text><text class="t" x="30" y="6.25">CEC2</text><text class="t" x="10" y="15.75">CEC3</text><text class="t" x="30" y="15.75">CEC4</text>
</g></g>
<g id="B-ATTACIN"><rect class="c" x="301" y="334" width="21" height="10"/><text class="t t3" x="311.5" y="340.1">ATTACIN</text></g>
<g id="B-GAMBICIN"><rect class="c" x="301" y="352" width="21" height="9.5"/><text class="t t3" x="311.5" y="357.8">GAMBICIN</text></g>
<g id="B-CED6"><rect class="c o" x="301" y="369" width="21" height="9.5"/><text class="t" x="311.5" y="375.3">CED 6</text></g>

<g id="B-DEF">
<text class="h" x="358" y="328">DEF</text>
<g transform="translate(335,334)">
<rect class="c b" width="20" height="10"/><rect class="c" x="20" width="20" height="10"/><rect class="c" y="10" width="20" height="10"/><rect class="c" x="20" y="10" width="20" height="10"/>
<text class="t" x="10" y="6.5">DEF1</text><text class="t" x="30" y="6.5">DEF2</text><text class="t" x="10" y="16.5">DEF3</text><text class="t" x="30" y="16.5">DEF4</text>
</g></g>

<g id="B-LYSC">
<text class="h" x="412.5" y="328.5">LYSC</text>
<g transform="translate(388,334)">
<rect class="c" width="19.5" height="10"/><rect class="c" x="19.5" width="19.5" height="10"/><rect class="c" y="10" width="19.5" height="10"/><rect class="c" x="19.5" y="10" width="19.5" height="10"/>
<text class="t" x="9.75" y="6.5">LYSC1</text><text class="t" x="29.25" y="6.5">LYSC4</text><text class="t" x="9.75" y="16.5">LYSC6</text><text class="t" x="29.25" y="16.5">LYSC7</text>
</g>
<rect class="c" x="399" y="355" width="20" height="9.5"/><text class="t t2" x="409" y="361">LYSC I-1</text>
</g>
</g>
</svg>
